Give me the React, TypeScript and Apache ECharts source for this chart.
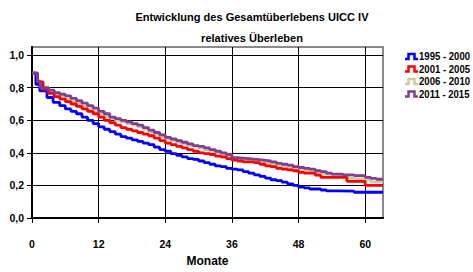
import React, { useEffect, useRef } from "react";
import * as echarts from "echarts";

const titleLines = ["Entwicklung des Gesamtüberlebens UICC IV", "relatives Überleben"];
const xAxisName = "Monate";
const xTicks = [0, 12, 24, 36, 48, 60];
const yTicks = [0, 0.2, 0.4, 0.6, 0.8, 1.0];
const seriesNames = ["1995 - 2000", "2001 - 2005", "2006 - 2010", "2011 - 2015"];
const seriesColors = ["#0000FF", "#FF0000", "#D2C79E", "#7F3F8F"];

// [month, survival]
const s1995: number[][] = [
  [0, 0.89], [0.7, 0.82], [1.4, 0.78], [2.7, 0.74], [3.8, 0.71], [5, 0.69], [6, 0.67], [7, 0.655],
  [8, 0.64], [9, 0.62], [10, 0.6], [11, 0.58], [12, 0.56], [13, 0.545], [14, 0.53], [15, 0.515],
  [16, 0.5], [17, 0.49], [18, 0.48], [19, 0.47], [20, 0.46], [21, 0.45], [22, 0.435], [23, 0.42],
  [24, 0.41], [25, 0.395], [26, 0.385], [27, 0.375], [28, 0.365], [29, 0.36], [30, 0.35], [31, 0.34],
  [32, 0.33], [33, 0.32], [34, 0.315], [35, 0.305], [36, 0.3], [37, 0.295], [38, 0.285], [39, 0.275],
  [40, 0.265], [41, 0.255], [42, 0.245], [43, 0.235], [44, 0.23], [45, 0.22], [46, 0.21], [47, 0.2],
  [48, 0.19], [49, 0.185], [50, 0.178], [52, 0.172], [53, 0.167], [55, 0.165], [58, 0.158], [63.2, 0.158],
];
const s2001: number[][] = [
  [0, 0.89], [1, 0.835], [2, 0.79], [3, 0.765], [4, 0.745], [5, 0.73], [6, 0.715], [7, 0.7],
  [8, 0.685], [9, 0.67], [10, 0.655], [11, 0.64], [12, 0.62], [13, 0.6], [14, 0.585], [15, 0.57],
  [16, 0.555], [17, 0.545], [18, 0.535], [19, 0.525], [20, 0.515], [21, 0.505], [22, 0.49], [23, 0.475],
  [24, 0.46], [25, 0.45], [26, 0.44], [27, 0.43], [28, 0.42], [29, 0.41], [30, 0.4], [31, 0.395],
  [32, 0.39], [33, 0.38], [34, 0.375], [35, 0.365], [36, 0.355], [37, 0.35], [38, 0.345], [40, 0.34],
  [41, 0.33], [42, 0.32], [43, 0.315], [44, 0.305], [45, 0.3], [46, 0.295], [47, 0.29], [48, 0.28],
  [49, 0.275], [51, 0.263], [52, 0.25], [56.7, 0.225], [60, 0.2], [63.2, 0.2],
];
const s2006: number[][] = [
  [0, 0.89], [1, 0.84], [1.5, 0.8], [3, 0.775], [4, 0.76], [5, 0.745], [6, 0.73], [7, 0.715],
  [8, 0.7], [9, 0.685], [10, 0.67], [11, 0.655], [12, 0.64], [13, 0.625], [14, 0.61], [15, 0.6],
  [16, 0.59], [17, 0.58], [18, 0.57], [19, 0.56], [20, 0.545], [21, 0.53], [22, 0.515], [23, 0.5],
  [24, 0.485], [25, 0.475], [26, 0.465], [27, 0.455], [28, 0.445], [29, 0.44], [30, 0.43], [31, 0.42],
  [32, 0.41], [33, 0.4], [34, 0.39], [35, 0.38], [36, 0.365], [37, 0.36], [38, 0.355], [40, 0.35],
  [41, 0.34], [42, 0.335], [43, 0.33], [44, 0.32], [45, 0.315], [46, 0.31], [47, 0.3], [48, 0.29],
  [50, 0.285], [51, 0.275], [52, 0.27], [54, 0.26], [56, 0.255], [57, 0.245], [58, 0.24], [60, 0.235],
  [61, 0.222], [63.2, 0.22],
];
const s2011: number[][] = [
  [0, 0.89], [1, 0.84], [1.5, 0.8], [3, 0.785], [4, 0.77], [5, 0.76], [6, 0.75], [7, 0.735],
  [8, 0.72], [9, 0.705], [10, 0.69], [11, 0.675], [12, 0.655], [13, 0.64], [14, 0.62], [15, 0.61],
  [16, 0.6], [17, 0.59], [18, 0.58], [19, 0.57], [20, 0.555], [21, 0.54], [22, 0.525], [23, 0.51],
  [24, 0.495], [25, 0.485], [26, 0.475], [27, 0.465], [28, 0.455], [29, 0.445], [30, 0.44], [31, 0.43],
  [32, 0.42], [33, 0.41], [34, 0.4], [35, 0.39], [36, 0.37], [37, 0.368], [38, 0.365], [39, 0.362],
  [40, 0.358], [41, 0.354], [42, 0.35], [43, 0.345], [44, 0.335], [45, 0.33], [46, 0.325], [47, 0.315],
  [48, 0.31], [49, 0.305], [50, 0.3], [51, 0.29], [52, 0.285], [53, 0.275], [54, 0.27], [56, 0.265],
  [58, 0.26], [60, 0.25], [61, 0.243], [62, 0.238], [63.2, 0.235],
];
const seriesData = [s1995, s2001, s2006, s2011];
const drawOrder = [2, 0, 1, 3];

const FONT = "'Liberation Sans', Arial, sans-serif";
const legendTop = [56.5, 69, 81.5, 94];

export default function App() {
  const ref = useRef<HTMLDivElement>(null);
  useEffect(() => {
    if (!ref.current) return;
    const chart = echarts.init(ref.current, null, { renderer: "svg" });
    const fmt = (v: number) => v.toFixed(1).replace(".", ",");

    const titleEls = titleLines.map((t, i) => ({
      type: "text",
      x: 252,
      y: i === 0 ? 17 : 38,
      scaleX: 0.96,
      style: {
        text: t,
        fill: "#000",
        font: `bold 11.5px ${FONT}`,
        textAlign: "center",
        textVerticalAlign: "middle",
      },
    }));
    const legendEls: any[] = [];
    seriesNames.forEach((name, i) => {
      const cy = legendTop[i];
      legendEls.push({
        type: "polyline",
        shape: {
          points: [
            [405, cy + 2.5],
            [408.5, cy + 2.5],
            [408.5, cy - 2.5],
            [414.5, cy - 2.5],
            [414.5, cy + 2.5],
            [418, cy + 2.5],
          ],
        },
        style: { stroke: seriesColors[i], lineWidth: 2.5, fill: "none", lineJoin: "miter" },
      });
      legendEls.push({
        type: "text",
        x: 419,
        y: cy,
        scaleX: 0.87,
        style: {
          text: name,
          fill: "#000",
          font: `bold 11px ${FONT}`,
          textAlign: "left",
          textVerticalAlign: "middle",
        },
      });
    });

    chart.setOption({
      animation: false,
      backgroundColor: "#ffffff",
      textStyle: { fontFamily: FONT },
      grid: {
        left: 32,
        top: 47,
        right: 90,
        bottom: 41,
        show: true,
        borderColor: "#8a8a8a",
        borderWidth: 2,
        backgroundColor: "transparent",
      },
      graphic: [...titleEls, ...legendEls],
      xAxis: {
        type: "value",
        min: 0,
        max: 63.2,
        interval: 12,
        name: xAxisName,
        nameLocation: "middle",
        nameGap: 37,
        nameTextStyle: { fontFamily: FONT, fontWeight: "bold", fontSize: 12, color: "#000" },
        axisLine: { show: true, onZero: false, lineStyle: { color: "#000", width: 2 } },
        axisTick: { show: true, length: 5, lineStyle: { color: "#000", width: 1 }, customValues: xTicks },
        axisLabel: {
          customValues: xTicks,
          margin: 20,
          fontFamily: FONT,
          fontWeight: "bold",
          fontSize: 10.5,
          color: "#000",
        },
        splitLine: { show: true, lineStyle: { color: "#000", width: 1 } },
      },
      yAxis: {
        type: "value",
        min: 0,
        max: 1.05,
        interval: 0.2,
        axisLine: { show: true, onZero: false, lineStyle: { color: "#000", width: 2 } },
        axisTick: { show: true, length: 5, lineStyle: { color: "#000", width: 1 }, customValues: yTicks },
        axisLabel: {
          customValues: yTicks,
          margin: 8,
          formatter: fmt,
          fontFamily: FONT,
          fontWeight: "bold",
          fontSize: 10.5,
          color: "#000",
        },
        splitLine: { show: true, lineStyle: { color: "#000", width: 1 } },
      },
      series: drawOrder.map((i) => ({
        name: seriesNames[i],
        type: "line",
        step: "end",
        showSymbol: false,
        symbol: "none",
        data: seriesData[i],
        color: seriesColors[i],
        lineStyle: { width: 2.8, color: seriesColors[i] },
        z: 3,
      })),
    });
    return () => chart.dispose();
  }, []);
  return (
    <div
      ref={ref}
      style={{ position: "fixed", left: 0, top: 0, width: 473, height: 272, background: "#fff" }}
    />
  );
}
